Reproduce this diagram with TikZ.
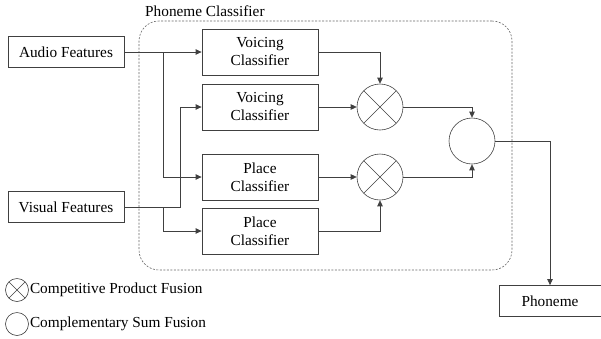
\documentclass[tikz,border=0pt]{standalone}
\usepackage{fontspec}
\setmainfont{Liberation Serif}
\usetikzlibrary{arrows.meta,positioning}

\begin{document}
\begin{tikzpicture}[
		x=1pt, y=-1pt,
		font=\rmfamily\fontsize{15.3}{18}\selectfont,
		>={Triangle[length=6pt,width=5.5pt]},
		% Node styles
		feature/.style={
			rectangle, draw=black!75, line width=0.8pt,
			minimum width=116pt, minimum height=31pt, inner sep=2pt
		},
		classifier/.style={
			rectangle, draw=black!75, line width=0.8pt,
			minimum width=116pt, minimum height=46pt,
			align=center, inner sep=2pt
		},
		prodfuse/.style={
			circle, draw=black!75, line width=0.6pt,
			minimum size=46pt, inner sep=0pt,
			path picture={
				\draw[black!75, line width=0.6pt]
				(path picture bounding box.north west) -- (path picture bounding box.south east)
				(path picture bounding box.north east) -- (path picture bounding box.south west);
			}
		},
		sumfuse/.style={
			circle, draw=black!75, line width=0.6pt,
			minimum size=46pt, inner sep=0pt
		},
		arr/.style={->, line width=0.8pt, black!75},
		groupbox/.style={
			draw=black!60, dash pattern=on 2pt off 1.5pt,
			rounded corners=20pt, line width=0.6pt, inner sep=0pt
		},
		legend/.style={anchor=west, inner sep=0pt}
	]
	\useasboundingbox (0,0) rectangle (601,338);
	
	%% --- PHONEME CLASSIFIER GROUP ---
	\node[groupbox, minimum width=373pt, minimum height=249pt] (group) at (325.5,145.5) {};
	\node[anchor=west, inner sep=0pt] (title) at (145,11) {Phoneme Classifier};
	
	%% --- INPUTS ---
	\node[feature] (audio)  at (66,52)  {Audio Features};
	\node[feature] (visual) at (66,207) {Visual Features};
	
	%% --- CLASSIFIERS ---
	\node[classifier] (voice1) at (260,52)  {Voicing\\Classifier};
	\node[classifier] (voice2) at (260,107) {Voicing\\Classifier};
	\node[classifier] (place1) at (260,177) {Place\\Classifier};
	\node[classifier] (place2) at (260,231) {Place\\Classifier};
	
	%% --- FUSION ---
	\node[prodfuse] (prod1) at (380,107) {};
	\node[prodfuse] (prod2) at (380,177) {};
	\node[sumfuse]  (sum)   at (472,141) {};
	
	\node[feature, minimum width=102pt] (phoneme) at (550,301) {Phoneme};
	
	\draw[arr] (audio) -- (voice1);
	\draw[arr] (audio.east) -- ++(39,0) |- (place1.west);
	\draw[arr] (visual.east) -- ++(56,0) |- (voice2.west);
	\draw[arr] (visual.east) -- ++(39,0) |- (place2.west);
	
	\draw[arr] (voice1.east) -| (prod1.north);
	\draw[arr] (voice2) -- (prod1);
	\draw[arr] (place1) -- (prod2);
	\draw[arr] (place2.east) -| (prod2.south);
	
	\draw[arr] (prod1.east) -| (sum.north);
	\draw[arr] (prod2.east) -| (sum.south);
	\draw[arr] (sum.east) -| (phoneme.north);
	
	%% --- LEGEND ---
	\node[prodfuse, minimum size=23pt] (legprod) at (17,290) {};
	\node[legend, right=1pt of legprod] (legprodtext) {Competitive Product Fusion};
	\node[sumfuse, minimum size=23pt] (legsum) at (17,324) {};
	\node[legend, right=1pt of legsum] (legsumtext) {Complementary Sum Fusion};
	
\end{tikzpicture}
\end{document}
